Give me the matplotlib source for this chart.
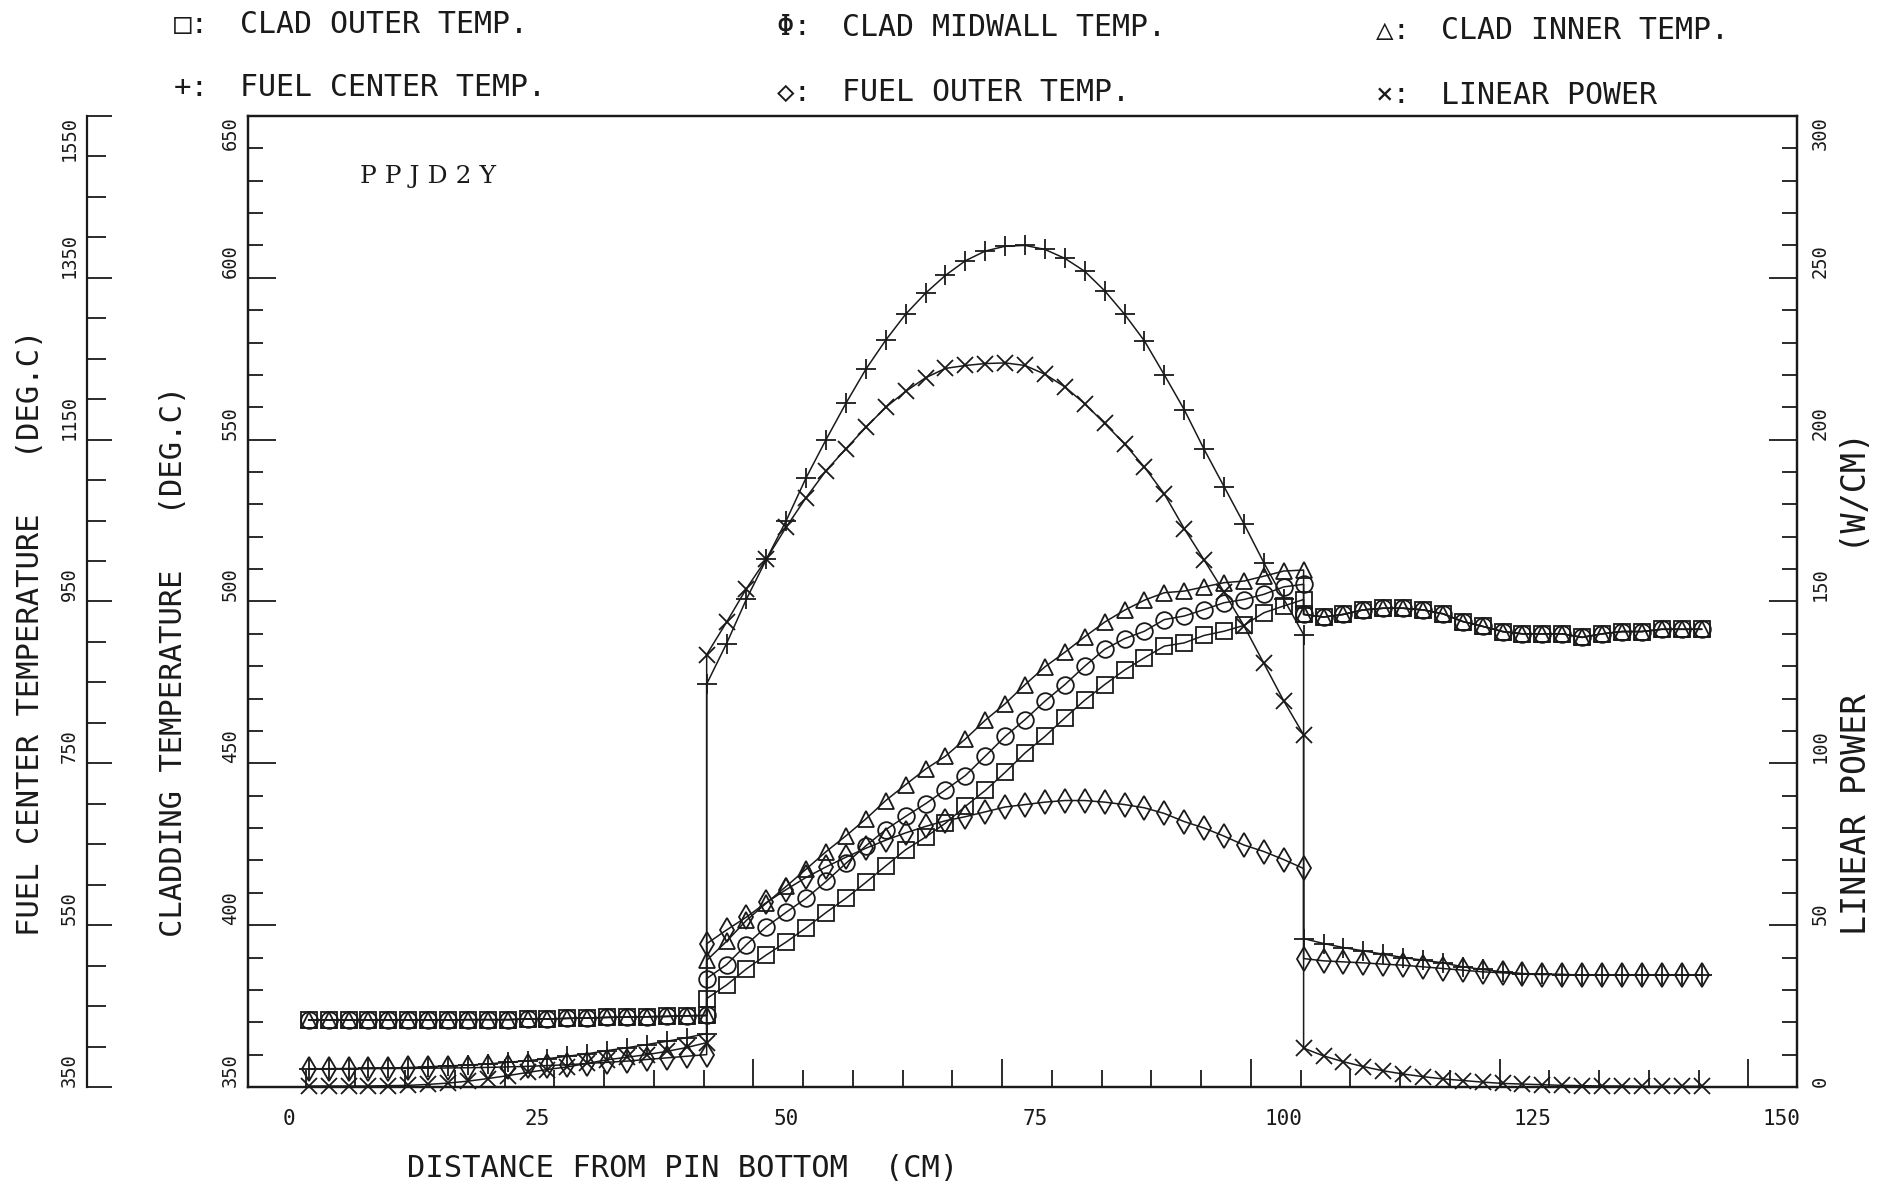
import matplotlib
matplotlib.use("Agg")
import matplotlib.pyplot as plt
from matplotlib.ticker import FixedLocator, NullFormatter

# axial position of each calculation node (cm): lower region, fuel column, upper region
pos = [2, 4, 6, 8, 10, 12, 14, 16, 18, 20, 22, 24, 26, 28, 30, 32, 34, 36, 38, 40, 42,
       42, 44, 46, 48, 50, 52, 54, 56, 58, 60, 62, 64, 66, 68, 70, 72, 74, 76, 78, 80,
       82, 84, 86, 88, 90, 92, 94, 96, 98, 100, 102,
       102, 104, 106, 108, 110, 112, 114, 116, 118, 120, 122, 124, 126, 128, 130, 132,
       134, 136, 138, 140, 142]

# cladding temperatures (deg C)
clad_outer = [370.7, 370.7, 370.7, 370.7, 370.7, 370.7, 370.7, 370.7, 370.8, 370.8, 370.8,
              371.0, 371.0, 371.2, 371.3, 371.5, 371.6, 371.7, 371.8, 372.0, 372.1,
              377.3, 381.5, 386.5, 390.8, 394.8, 399.2, 403.9, 408.3, 413.2, 418.3, 423.3,
              427.2, 431.5, 436.7, 441.6, 447.2, 453.2, 458.3, 464.0, 469.5, 474.3, 478.8,
              482.6, 486.2, 487.2, 489.5, 490.8, 492.6, 496.5, 498.6, 500.6,
              496.0, 495.2, 496.0, 497.4, 497.9, 497.9, 497.4, 496.2, 493.8, 492.3, 490.7,
              490.0, 490.0, 490.0, 488.9, 490.0, 490.7, 490.7, 491.4, 491.4, 491.4]
clad_mid = [370.7, 370.7, 370.7, 370.7, 370.7, 370.7, 370.7, 370.7, 370.8, 370.8, 370.8,
            371.0, 371.0, 371.2, 371.3, 371.5, 371.6, 371.7, 371.8, 372.0, 372.1,
            383.5, 387.8, 394.0, 399.5, 404.0, 408.3, 413.5, 419.1, 424.5, 429.5, 433.6,
            437.5, 441.8, 446.2, 452.2, 458.3, 463.5, 469.2, 474.3, 480.0, 485.2, 488.5,
            490.8, 494.4, 495.5, 497.5, 499.6, 500.6, 502.2, 504.5, 505.3,
            496.0, 495.2, 496.0, 497.4, 497.9, 497.9, 497.4, 496.2, 493.8, 492.3, 490.7,
            490.0, 490.0, 490.0, 488.9, 490.0, 490.7, 490.7, 491.4, 491.4, 491.4]
clad_inner = [370.7, 370.7, 370.7, 370.7, 370.7, 370.7, 370.7, 370.7, 370.8, 370.8, 370.8,
              371.0, 371.0, 371.2, 371.3, 371.5, 371.6, 371.7, 371.8, 372.0, 372.1,
              389.1, 395.0, 401.5, 406.8, 412.0, 417.3, 422.7, 427.6, 432.8, 438.5, 443.4,
              448.2, 452.2, 457.5, 463.3, 468.4, 474.3, 479.8, 484.3, 489.1, 493.6, 497.3,
              500.4, 502.7, 503.2, 504.5, 505.8, 506.3, 507.8, 509.4, 509.7,
              496.0, 495.2, 496.0, 497.4, 497.9, 497.9, 497.4, 496.2, 493.8, 492.3, 490.7,
              490.0, 490.0, 490.0, 488.9, 490.0, 490.7, 490.7, 491.4, 491.4, 491.4]

# fuel temperatures (deg C)
fuel_center = [372.5, 372.6, 372.8, 373.0, 373.5, 374.0, 375.0, 376.0, 377.0, 378.5, 380.5,
               382.5, 385.0, 388.0, 391.0, 395.0, 398.5, 402.5, 406.5, 411.0, 416.0,
               848, 898, 953, 1002, 1050, 1103, 1150, 1195, 1237, 1273, 1305, 1331, 1353,
               1371, 1383, 1389, 1390, 1385, 1374, 1358, 1334, 1305, 1272, 1230, 1187, 1138,
               1092, 1046, 998, 953, 909,
               533.4, 527.3, 522.3, 518.2, 514.1, 510.0, 506.7, 503.4, 498.5, 495.2, 492.3,
               490.2, 489.4, 489.0, 488.5, 488.2, 488.2, 488.2, 488.2, 488.2, 488.2]
fuel_outer = [372.5, 372.5, 372.6, 372.7, 372.8, 373.0, 373.2, 373.5, 373.8, 374.2, 374.8,
              375.5, 376.5, 377.5, 379.0, 380.5, 382.0, 384.0, 386.0, 388.0, 390.0,
              527, 544, 560, 578, 594, 609, 622, 634, 645, 655, 664, 672, 679, 684, 690,
              696, 699, 702, 704, 704, 702, 699, 695, 688, 678, 670, 660, 649, 641, 631, 620,
              508.7, 505.9, 504.6, 503.4, 501.8, 500.5, 498.5, 496.4, 494.4, 492.3, 491.1,
              489.4, 489.0, 489.0, 488.2, 488.2, 488.2, 488.2, 488.2, 488.2, 488.2]

# linear power (W/cm)
linear_power = [0.3, 0.3, 0.3, 0.3, 0.4, 0.5, 0.8, 1.2, 1.8, 2.6, 3.5, 4.5, 5.4, 6.2, 7.3,
                8.4, 9.2, 10.0, 11.0, 12.2, 13.7,
                133.6, 143.6, 154.0, 163.1, 173.0, 182.1, 190.4, 197.2, 203.8, 210.0, 214.9,
                219.1, 222.0, 222.9, 223.5, 223.7, 222.9, 220.2, 216.3, 211.1, 205.0, 198.7,
                191.5, 183.2, 172.5, 162.8, 152.9, 142.5, 130.9, 119.3, 108.8,
                12.0, 9.6, 7.8, 6.3, 5.0, 4.0, 3.2, 2.5, 2.0, 1.5, 1.1, 0.9, 0.7, 0.5, 0.4,
                0.3, 0.3, 0.2, 0.2, 0.2, 0.2]

clad_ticks = [350, 400, 450, 500, 550, 600, 650]
fuel_ticks = [350, 550, 750, 950, 1150, 1350, 1550]
power_ticks = [0, 50, 100, 150, 200, 250, 300]
dist_ticks = [0, 25, 50, 75, 100, 125, 150]

FONT = "DejaVu Sans Mono"
ink = "#1a1a1a"
lw = 1.1


def rotated_labels(axis, values):
    # plotter style: numbers written upward, starting at their tick
    axis.set_ticklabels([str(v) for v in values], rotation=90, fontsize=13.5, family=FONT)
    ticks = axis.get_major_ticks()
    for i, t in enumerate(ticks):
        for lab in (t.label1, t.label2):
            lab.set_va("top" if i == len(ticks) - 1 else "bottom")


fig = plt.figure(figsize=(18.79, 11.89), dpi=100)
ax = fig.add_axes([0.1320, 0.0858, 0.8244, 0.8167])
ax.set_xlim(-4.1, 151.6)
ax.set_ylim(350, 650)

axf = ax.twinx()
axf.set_ylim(350, 1550)
axp = ax.twinx()
axp.set_ylim(0, 300)

for a in (ax, axf, axp):
    for s in a.spines.values():
        s.set_color(ink)
        s.set_linewidth(1.6)

# fuel temperature scale sits further left
axf.spines["left"].set_position(("axes", -0.104))
axf.spines["left"].set_visible(True)
for s in ("right", "top", "bottom"):
    axf.spines[s].set_visible(False)
axf.yaxis.set_ticks_position("left")
axf.yaxis.set_major_locator(FixedLocator(fuel_ticks))
axf.yaxis.set_minor_locator(FixedLocator(list(range(400, 1550, 50))))
axf.tick_params(axis="y", which="both", direction="in", colors=ink, width=1.3)
axf.tick_params(axis="y", which="major", length=18, pad=6)
axf.tick_params(axis="y", which="minor", length=14)
rotated_labels(axf.yaxis, fuel_ticks)

# cladding temperature scale
ax.yaxis.set_major_locator(FixedLocator(clad_ticks))
ax.yaxis.set_minor_locator(FixedLocator(list(range(360, 650, 10))))
ax.tick_params(axis="y", which="both", direction="in", colors=ink, width=1.3, right=False)
ax.tick_params(axis="y", which="major", length=20, pad=6)
ax.tick_params(axis="y", which="minor", length=11)
rotated_labels(ax.yaxis, clad_ticks)

# linear power scale
axp.yaxis.set_major_locator(FixedLocator(power_ticks))
axp.yaxis.set_minor_locator(FixedLocator(list(range(10, 300, 10))))
axp.tick_params(axis="y", which="both", direction="in", colors=ink, width=1.3)
axp.tick_params(axis="y", which="major", length=20, pad=10)
axp.tick_params(axis="y", which="minor", length=11)
rotated_labels(axp.yaxis, power_ticks)

# distance axis: tick marks every 5 cm, numbers every 25 cm
ax.xaxis.set_major_locator(FixedLocator([21.7, 46.7, 71.7, 96.7, 121.7, 146.7]))
ax.xaxis.set_minor_locator(FixedLocator([1.7 + 5 * k for k in range(30)]))
ax.xaxis.set_major_formatter(NullFormatter())
ax.tick_params(axis="x", which="both", direction="in", colors=ink, width=1.3, top=False)
ax.tick_params(axis="x", which="major", length=20)
ax.tick_params(axis="x", which="minor", length=12)
secx = ax.secondary_xaxis("bottom")
secx.set_xticks(dist_ticks)
secx.set_xticklabels([str(t) for t in dist_ticks], fontsize=15, family=FONT)
secx.tick_params(length=0, pad=16, colors=ink)
secx.spines["bottom"].set_visible(False)

mk = dict(color=ink, lw=lw, mfc="none", mec=ink, mew=1.3, clip_on=False)
ax.plot(pos, clad_outer, marker="s", ms=12, **mk)
ax.plot(pos, clad_mid, marker="o", ms=12, **mk)
ax.plot(pos, clad_inner, marker="^", ms=11, **mk)
axf.plot(pos, fuel_center, marker="+", ms=14, **mk)
axf.plot(pos, fuel_outer, marker="d", ms=12, **mk)
axp.plot(pos, linear_power, marker="x", ms=12, **mk)

ax.text(0.072, 0.938, "P P J D 2 Y", transform=ax.transAxes, fontsize=18,
        family="DejaVu Serif", color=ink, va="center")

# legend of plotting symbols
legend = [("\u25a1", "CLAD OUTER TEMP.", 0.0925, 0.979),
          ("\u03a6", "CLAD MIDWALL TEMP.", 0.4133, 0.977),
          ("\u25b3", "CLAD INNER TEMP.", 0.7321, 0.974),
          ("+", "FUEL CENTER TEMP.", 0.0925, 0.926),
          ("\u25c7", "FUEL OUTER TEMP.", 0.4133, 0.922),
          ("\u00d7", "LINEAR POWER", 0.7321, 0.920)]
for sym, txt, fx, fy in legend:
    fig.text(fx, fy, sym + ":", fontsize=21, family=FONT, color=ink, va="center")
    fig.text(fx + 0.035, fy, txt, fontsize=21.5, family=FONT, color=ink, va="center")

fig.text(0.016, 0.468, "FUEL CENTER TEMPERATURE   (DEG.C)", rotation=90, fontsize=22,
         family=FONT, color=ink, ha="center", va="center")
fig.text(0.0925, 0.444, "CLADDING TEMPERATURE   (DEG.C)", rotation=90, fontsize=22,
         family=FONT, color=ink, ha="center", va="center")
fig.text(0.988, 0.425, "LINEAR POWER       (W/CM)", rotation=90, fontsize=24,
         family=FONT, color=ink, ha="center", va="center")
fig.text(0.3635, 0.017, "DISTANCE FROM PIN BOTTOM  (CM)", fontsize=22,
         family=FONT, color=ink, ha="center", va="center")

fig.savefig("out.png", dpi=100, facecolor="white")
